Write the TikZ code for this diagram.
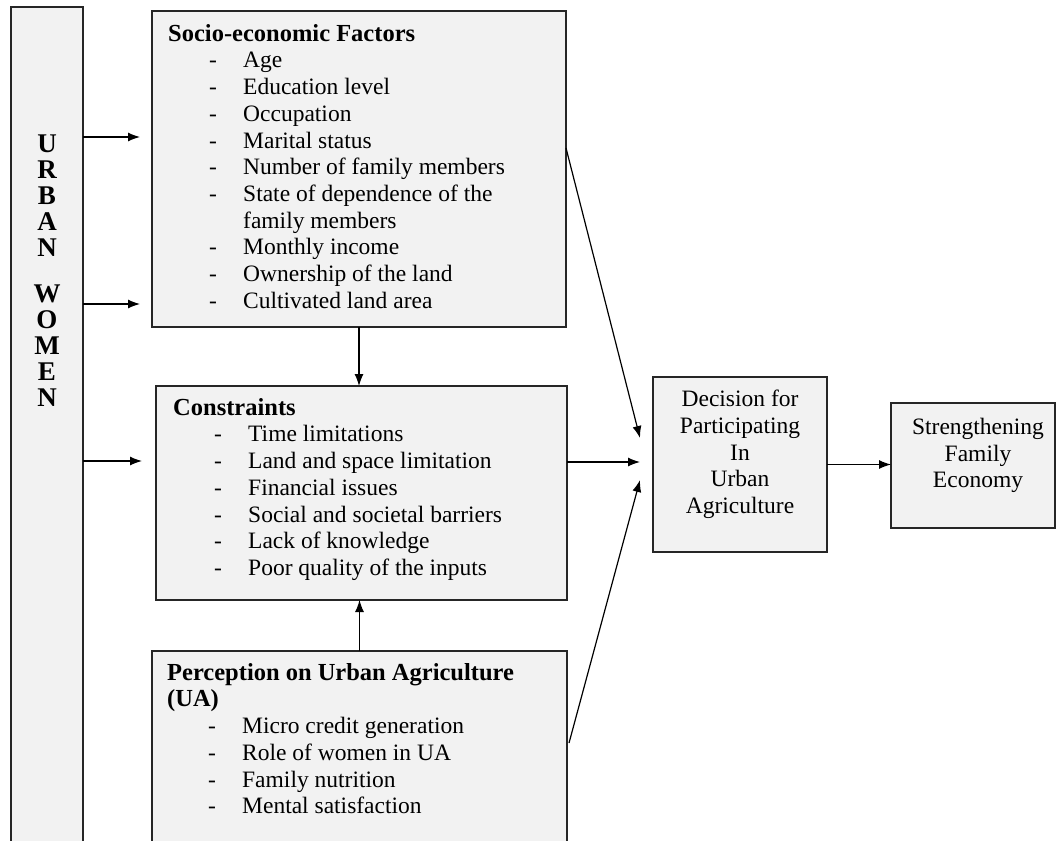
\documentclass[tikz,border=0pt]{standalone}
\usepackage{fontspec}
\setmainfont{Liberation Serif}
\usetikzlibrary{arrows.meta,calc}

\newcommand{\hfont}{\fontsize{24.5}{26.7}\selectfont\bfseries}
\newcommand{\ditem}[1]{\hspace*{41pt}\makebox[34pt][l]{-}#1}
\newcommand{\dcont}[1]{\hspace*{75pt}#1}

\begin{document}
\begin{tikzpicture}[x=1pt,y=1pt,
    panel/.style={draw=black!85,line width=1.4pt,fill=black!5,inner sep=0pt,outer sep=0pt,anchor=north west},
    txt/.style={inner sep=0pt,align=left,anchor=north west,font=\fontsize{23.5}{26.7}\selectfont},
    ctxt/.style={inner sep=0pt,align=center,anchor=north,font=\fontsize{23.5}{26.7}\selectfont},
    arr/.style={-{Latex[length=12pt,width=9pt]},line width=1.2pt}]

    \useasboundingbox (0,0) rectangle (1056,-840);
    \clip (0,0) rectangle (1056,-840);

    % boxes
    \node[panel,minimum width=72,minimum height=850] (women) at (11,-7) {};
    \node[panel,minimum width=414,minimum height=316] (socio) at (152,-11) {};
    \node[panel,minimum width=411,minimum height=214] (constr) at (156,-386) {};
    \node[panel,minimum width=415,minimum height=220] (perc) at (152,-651) {};
    \node[panel,minimum width=174,minimum height=175] (decision) at (653,-377) {};
    \node[panel,minimum width=164,minimum height=125] (strength) at (891,-403) {};

    % texts
    \node[ctxt,font=\fontsize{27}{26}\selectfont\bfseries] (womenTxt) at (47,-135)
        {U\\R\\B\\A\\N\\[20pt]W\\O\\M\\E\\N};
    \node[txt] (socioTxt) at (168,-24) {{\hfont Socio-economic Factors}\\
        \ditem{Age}\\
        \ditem{Education level}\\
        \ditem{Occupation}\\
        \ditem{Marital status}\\
        \ditem{Number of family members}\\
        \ditem{State of dependence of the}\\
        \dcont{family members}\\
        \ditem{Monthly income}\\
        \ditem{Ownership of the land}\\
        \ditem{Cultivated land area}};
    \node[txt] (constrTxt) at (173,-398) {{\hfont Constraints}\\
        \ditem{Time limitations}\\
        \ditem{Land and space limitation}\\
        \ditem{Financial issues}\\
        \ditem{Social and societal barriers}\\
        \ditem{Lack of knowledge}\\
        \ditem{Poor quality of the inputs}};
    \node[txt] (percTxt) at (167,-663) {{\hfont Perception on Urban Agriculture}\\
        {\hfont (UA)}\\
        \ditem{Micro credit generation}\\
        \ditem{Role of women in UA}\\
        \ditem{Family nutrition}\\
        \ditem{Mental satisfaction}};
    \node[ctxt] (decisionTxt) at (740,-390) {Decision for\\Participating\\In\\Urban\\Agriculture};
    \node[ctxt] (strengthTxt) at (978,-418) {Strengthening\\Family\\Economy};

    % free ends of the arrows
    \coordinate (socioIn) at (140,-137);
    \coordinate (constrIn) at (140,-304);
    \coordinate (percIn) at (142,-461);
    \coordinate (decTop) at (640,-438);
    \coordinate (decMid) at (640,-462);
    \coordinate (decLow) at (640,-480);

    % arrows
    \draw[arr] (women.east |- socioIn) -- (socioIn);
    \draw[arr] (women.east |- constrIn) -- (constrIn);
    \draw[arr] (women.east |- percIn) -- (percIn);
    \draw[arr] (socio.south) -- (socio.south |- constr.north);
    \draw[arr] (perc.north) -- (perc.north |- constr.south);
    \draw[arr] ($(socio.north east)+(0,-137)$) -- (decTop);
    \draw[arr] (constr.east |- decMid) -- (decMid);
    \draw[arr] ($(perc.north east)+(2,-92)$) -- (decLow);
    \draw[arr] (decision.east) -- (decision.east -| strength.west);
\end{tikzpicture}
\end{document}
